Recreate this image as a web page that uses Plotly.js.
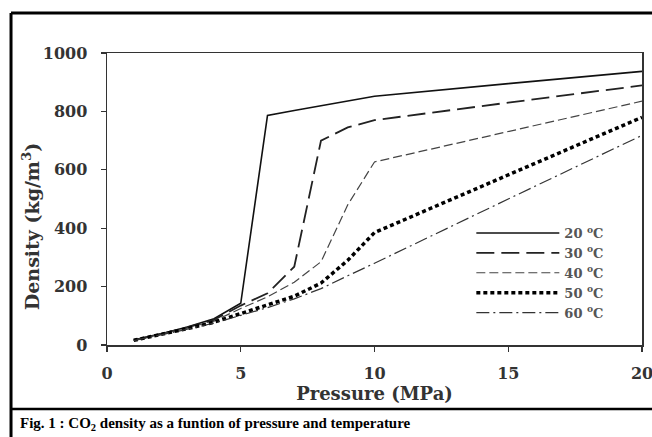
<!DOCTYPE html>
<html>
<head>
<meta charset="utf-8">
<script src="https://cdn.plot.ly/plotly-3.0.1.min.js"></script>
<style>html,body{margin:0;padding:0;background:#fff;}#chart{width:652px;height:437px;}</style>
</head>
<body>
<div id="chart"></div>
<script>
// Pressure (MPa)
const pressure = [1, 2, 3, 4, 5, 6, 7, 8, 9, 10, 15, 20];
// CO2 density (kg/m3) per temperature
const density20 = [17, 38, 62, 90, 143, 786, 803, 820, 837, 852, 895, 937];
const density30 = [17, 37, 60, 86, 135, 177, 268, 700, 745, 770, 830, 889];
const density40 = [16, 36, 58, 82, 125, 165, 215, 285, 480, 627, 731, 835];
const density50 = [16, 35, 56, 78, 108, 136, 167, 212, 290, 385, 583, 780];
const density60 = [15, 34, 54, 75, 102, 128, 158, 193, 237, 280, 500, 718];
const seriesNames = ["20 <sup>o</sup>C", "30 <sup>o</sup>C", "40 <sup>o</sup>C", "50 <sup>o</sup>C", "60 <sup>o</sup>C"];
const xTicks = [0, 5, 10, 15, 20];
const yTicks = [0, 200, 400, 600, 800, 1000];

const styles = [
  {color: "#111", width: 1.6, dash: "solid"},
  {color: "#222", width: 1.8, dash: "18px,7px"},
  {color: "#444", width: 1.2, dash: "9px,4px"},
  {color: "#000", width: 3.5, dash: "4px,3px"},
  {color: "#333", width: 1.2, dash: "13px,4px,2px,4px"}
];
const allSeries = [density20, density30, density40, density50, density60];
const traces = allSeries.map((ys, i) => ({
  x: pressure, y: ys, type: "scatter", mode: "lines",
  name: seriesNames[i], line: styles[i], hoverinfo: "skip"
}));

const tickFont = {family: "DejaVu Serif", size: 16, color: "#333", weight: "bold"};
const layout = {
  width: 652, height: 437,
  margin: {l: 107, r: 10, t: 53, b: 92},
  paper_bgcolor: "#fff", plot_bgcolor: "#fff",
  showlegend: true,
  legend: {
    x: 0.681, y: 0.435, xanchor: "left", yanchor: "top",
    bgcolor: "rgba(0,0,0,0)", itemwidth: 83,
    font: {family: "DejaVu Serif", size: 13, color: "#555", weight: "bold"},
    tracegroupgap: 0
  },
  xaxis: {
    range: [0, 20], tickvals: xTicks, ticktext: xTicks.map(String),
    ticks: "outside", ticklen: 5, tickwidth: 1.2, tickcolor: "#333",
    showline: true, linecolor: "#333", linewidth: 1.5, mirror: true,
    showgrid: false, zeroline: false, tickfont: tickFont, ticklabelstandoff: 8,
    ticklabeloverflow: "allow",
    title: {text: "Pressure (MPa)", font: {family: "DejaVu Serif", size: 18, color: "#333", weight: "bold"}, standoff: 4}
  },
  yaxis: {
    range: [0, 1000], tickvals: yTicks, ticktext: yTicks.map(String),
    ticks: "outside", ticklen: 5, tickwidth: 1.2, tickcolor: "#333",
    showline: true, linecolor: "#333", linewidth: 1.5, mirror: true,
    showgrid: false, zeroline: false, tickfont: tickFont, ticklabelstandoff: 10
  },
  shapes: [
    {type: "line", xref: "paper", yref: "paper", x0: -0.1794, x1: -0.1794, y0: 1.137, y1: -0.35, line: {color: "#000", width: 3}},
    {type: "line", xref: "paper", yref: "paper", x0: -0.1794, x1: 1.06, y0: 1.137, y1: 1.137, line: {color: "#000", width: 3}},
    {type: "line", xref: "paper", yref: "paper", x0: -0.1794, x1: 1.06, y0: -0.219, y1: -0.219, line: {color: "#000", width: 2.5}}
  ],
  annotations: [
    {text: "Density (kg/m<sup>3</sup>)", textangle: -90,
     xref: "paper", yref: "paper", x: -0.143, y: 0.405, xanchor: "center", yanchor: "middle",
     showarrow: false, font: {family: "DejaVu Serif", size: 19, color: "#333", weight: "bold"}},
    {text: "Fig. 1 : CO<sub>2</sub> density as a funtion of pressure and temperature",
     xref: "paper", yref: "paper", x: -0.1664, y: -0.2705, xanchor: "left", yanchor: "middle",
     showarrow: false, font: {family: "Liberation Serif", size: 15, color: "#000", weight: "bold"}}
  ]
};
Plotly.newPlot("chart", traces, layout, {displayModeBar: false, staticPlot: true});
</script>
</body>
</html>
